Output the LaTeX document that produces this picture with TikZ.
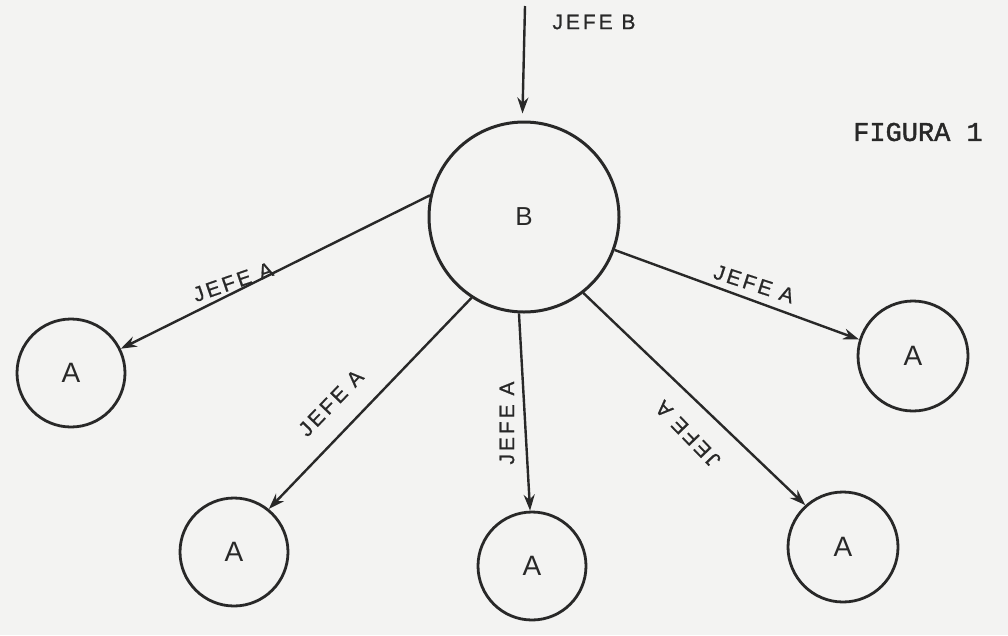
\documentclass[tikz,border=0pt]{standalone}
\usepackage{fontspec}
\setmainfont{Liberation Sans}
\newfontfamily\typefont{Liberation Mono}[FakeBold=1.5]
\newfontfamily\handfont{Liberation Sans}[FakeBold=0.8,LetterSpace=14]
\usetikzlibrary{arrows.meta}
\definecolor{paper}{RGB}{243,243,242}
\definecolor{ink}{RGB}{40,40,40}
\tikzset{
  circA/.style={circle,draw=ink,line width=2.8pt,inner sep=0pt,minimum size=108pt,font=\fontsize{28}{30}\selectfont,text=ink},
  circB/.style={circle,draw=ink,line width=3pt,inner sep=0pt,minimum size=190pt,font=\fontsize{26}{28}\selectfont,text=ink},
  conn/.style={draw=ink,line width=2.4pt,-{Stealth[length=16pt,width=11pt]}},
  lab/.style={font=\handfont\fontsize{21}{23}\selectfont,text=ink,inner sep=1pt}
}
\begin{document}
\begin{tikzpicture}[x=1pt,y=-1pt]
\fill[paper] (0,0) rectangle (1008,635);
\useasboundingbox (0,0) rectangle (1008,635);
\node[circB] (B) at (524,217) {B};
\node[circA] (A1) at (71,373) {A};
\node[circA] (A2) at (234,552) {A};
\node[circA] (A3) at (532,566) {A};
\node[circA,minimum size=110pt] (A4) at (843,547) {A};
\node[circA,minimum size=110pt] (A5) at (913,356) {A};
\coordinate (top) at (525,6);
\draw[conn,shorten >=7pt] (top) -- (B.91);
\draw[conn] (B.167) -- (A1.26);
\draw[conn] (B.237) -- (A2.51);
\draw[conn] (B.267) -- (A3.92);
\draw[conn] (B.308) -- (A4.132);
\draw[conn] (B.340) -- (A5.163);
\node[lab] (lb) at (594,22) {JEFE B};
\node[lab,rotate=19] (l1) at (233,282) {JEFE A};
\node[lab,rotate=46] (l2) at (331,403) {JEFE A};
\node[lab,rotate=90] (l3) at (507,423) {JEFE A};
\node[lab,rotate=134] (l4) at (688,434) {JEFE A};
\node[lab,rotate=-18] (l5) at (754,284) {JEFE A};
\node[font=\typefont\fontsize{27}{29}\selectfont,text=ink] (fig) at (918,132) {FIGURA 1};
\end{tikzpicture}
\end{document}
